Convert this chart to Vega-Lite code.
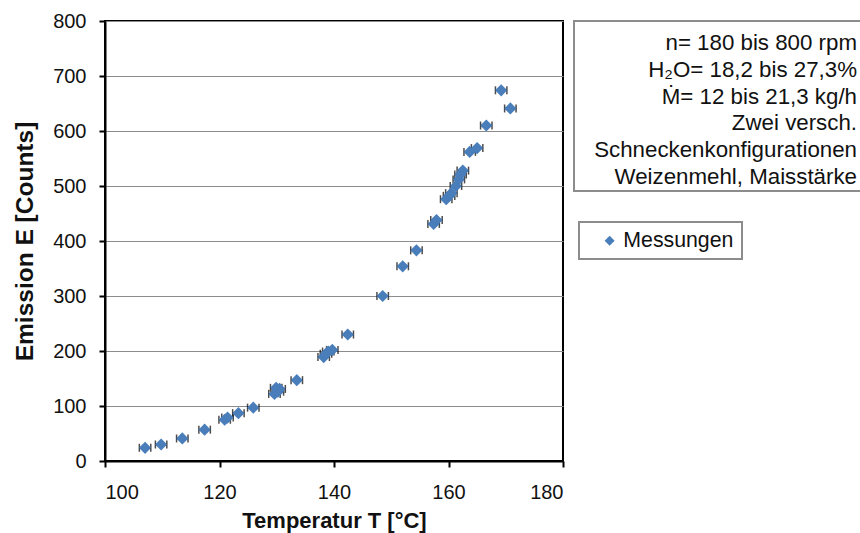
{
  "$schema": "https://vega.github.io/schema/vega-lite/v6.json",
  "autosize": {"type": "none"},
  "padding": {"left": 105, "top": 21, "right": 755, "bottom": 512},
  "background": "white",
  "bounds": "flush",
  "spacing": 11,
  "config": {
    "font": "Liberation Sans",
    "legend": {"strokeColor": "#8c8c8c", "strokeWidth": 2}
  },
  "datasets": {
    "meas": [
      {"T": 107.0, "E": 24, "dT": 1.0},
      {"T": 109.8, "E": 30, "dT": 1.0},
      {"T": 113.5, "E": 41, "dT": 1.0},
      {"T": 117.4, "E": 57, "dT": 1.0},
      {"T": 120.9, "E": 75, "dT": 1.0},
      {"T": 121.4, "E": 79, "dT": 1.0},
      {"T": 123.3, "E": 87, "dT": 1.0},
      {"T": 125.9, "E": 97, "dT": 1.0},
      {"T": 129.6, "E": 122, "dT": 1.0},
      {"T": 129.9, "E": 133, "dT": 1.0},
      {"T": 130.2, "E": 126, "dT": 1.0},
      {"T": 130.5, "E": 131, "dT": 1.0},
      {"T": 133.5, "E": 147, "dT": 1.0},
      {"T": 138.2, "E": 189, "dT": 1.0},
      {"T": 138.6, "E": 195, "dT": 1.0},
      {"T": 139.0, "E": 199, "dT": 1.0},
      {"T": 139.7, "E": 202, "dT": 1.0},
      {"T": 142.4, "E": 230, "dT": 1.0},
      {"T": 148.5, "E": 300, "dT": 1.0},
      {"T": 152.0, "E": 354, "dT": 1.0},
      {"T": 154.4, "E": 383, "dT": 1.0},
      {"T": 157.4, "E": 431, "dT": 1.0},
      {"T": 157.9, "E": 438, "dT": 1.0},
      {"T": 159.6, "E": 476, "dT": 1.0},
      {"T": 160.1, "E": 482, "dT": 1.0},
      {"T": 160.5, "E": 487, "dT": 1.0},
      {"T": 161.3, "E": 500, "dT": 1.0},
      {"T": 161.8, "E": 512, "dT": 1.0},
      {"T": 162.1, "E": 521, "dT": 1.0},
      {"T": 162.5, "E": 528, "dT": 1.0},
      {"T": 163.7, "E": 562, "dT": 1.0},
      {"T": 165.0, "E": 569, "dT": 1.0},
      {"T": 166.6, "E": 610, "dT": 1.0},
      {"T": 169.2, "E": 674, "dT": 1.0},
      {"T": 170.8, "E": 641, "dT": 1.0}
    ],
    "info": [
      {"line": 1, "text": "n= 180 bis 800 rpm"},
      {"line": 2, "text": "H₂O= 18,2 bis 27,3%"},
      {"line": 3, "text": "Ṁ= 12 bis 21,3 kg/h"},
      {"line": 4, "text": "Zwei versch."},
      {"line": 5, "text": "Schneckenkonfigurationen"},
      {"line": 6, "text": "Weizenmehl, Maisstärke"}
    ]
  },
  "resolve": {"legend": {"color": "independent"}},
  "hconcat": [
    {
      "width": 458,
      "height": 440,
      "view": {"stroke": "#000000", "strokeWidth": 2},
      "data": {"name": "meas"},
      "encoding": {
        "x": {
          "field": "T", "type": "quantitative",
          "scale": {"domain": [100, 180], "nice": false, "zero": false},
          "title": "Temperatur T [°C]",
          "axis": {
            "values": [100, 120, 140, 160, 180],
            "grid": false,
            "domainColor": "#000000", "domainWidth": 2,
            "tickColor": "#000000", "tickWidth": 2, "tickSize": 6,
            "labelFontSize": 20, "labelColor": "#111111", "labelPadding": 15,
            "titleFontSize": 22, "titleFontWeight": "bold", "titleColor": "#111111", "titlePadding": 8
          }
        },
        "y": {
          "field": "E", "type": "quantitative",
          "scale": {"domain": [0, 800], "nice": false},
          "title": "Emission E [Counts]",
          "axis": {
            "values": [0, 100, 200, 300, 400, 500, 600, 700, 800],
            "grid": true, "gridColor": "#8c8c8c", "gridWidth": 1,
            "domainColor": "#000000", "domainWidth": 2,
            "tickColor": "#000000", "tickWidth": 2, "tickSize": 6,
            "labelFontSize": 20, "labelColor": "#111111", "labelPadding": 13,
            "titleFontSize": 24.5, "titleFontWeight": "bold", "titleColor": "#111111", "titlePadding": 15
          }
        }
      },
      "layer": [
        {
          "mark": {"type": "errorbar", "ticks": true, "size": 8, "thickness": 1.5, "color": "#000000"},
          "encoding": {"xError": {"field": "dT"}}
        },
        {
          "mark": {"type": "point", "shape": "diamond", "filled": true, "size": 150, "opacity": 1},
          "encoding": {
            "color": {
              "datum": "Messungen", "type": "nominal",
              "scale": {"range": ["#4a7ebb"]},
              "legend": {
                "orient": "none", "legendX": 474, "legendY": 201,
                "title": null, "symbolType": "diamond", "symbolSize": 100,
                "symbolOffset": 12, "labelOffset": 3, "padding": 8,
                "labelFontSize": 21.3, "labelColor": "#111111",
                "labelExpr": "datum.label + '    '"
              }
            }
          }
        }
      ]
    },
    {
      "width": 290,
      "height": 170,
      "view": {"stroke": "#8c8c8c", "strokeWidth": 2},
      "data": {"name": "info"},
      "mark": {"type": "text", "align": "right", "baseline": "alphabetic", "fontSize": 22.3, "dx": -7, "dy": 11, "color": "#111111"},
      "encoding": {
        "y": {"field": "line", "type": "ordinal", "axis": null, "scale": {"type": "point", "padding": 0.672}},
        "x": {"datum": 1, "type": "quantitative", "scale": {"domain": [0, 1]}, "axis": null},
        "text": {"field": "text"}
      }
    }
  ]
}
